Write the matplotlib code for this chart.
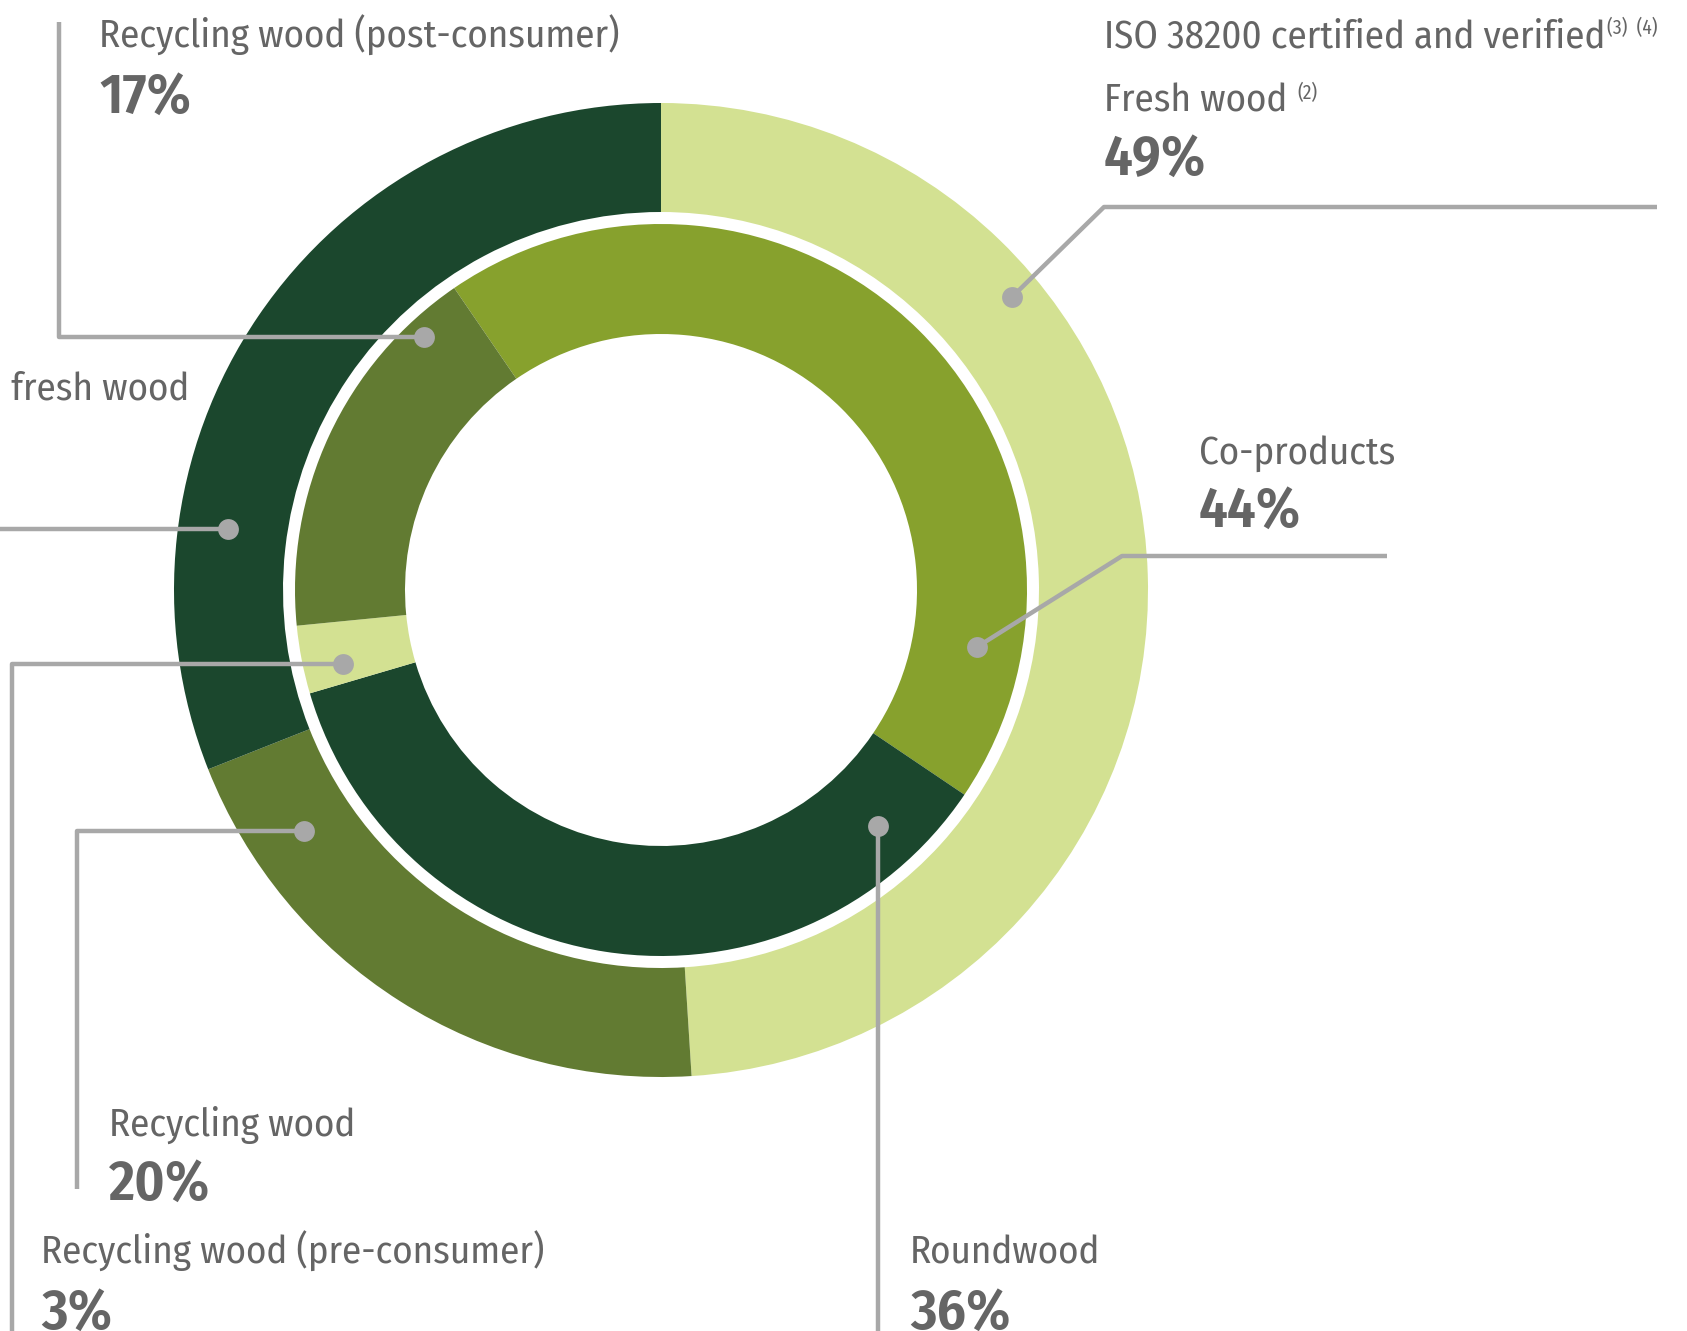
import matplotlib.pyplot as plt

W, H = 1687, 1331

# outer ring: certification split
outer_labels = ['Fresh wood', 'Recycling wood', 'fresh wood']
outer_values = [49, 20, 31]
outer_colors = ['#D3E192', '#627B32', '#1B472D']

# inner ring: wood categories
inner_labels = ['Co-products', 'Roundwood', 'Recycling wood (pre-consumer)',
                'Recycling wood (post-consumer)']
inner_values = [44, 36, 3, 17]
inner_colors = ['#87A12D', '#1B472D', '#D3E192', '#627B32']

plt.rcParams['font.family'] = ['Fira Sans Condensed', 'Roboto', 'DejaVu Sans']
TXT = '#656565'
LINE = '#A8A8A8'

fig = plt.figure(figsize=(W / 100, H / 100), dpi=100)
ax = fig.add_axes([0, 0, 1, 1])

cx, cy = 661, 590
ax.pie(outer_values, colors=outer_colors, radius=487, center=(cx, cy),
       startangle=-90, counterclock=True,
       wedgeprops=dict(width=109, linewidth=0))
ax.pie(inner_values, colors=inner_colors, radius=366, center=(cx, cy),
       startangle=235.6, counterclock=True,
       wedgeprops=dict(width=110, linewidth=0))

ax.set_xlim(0, W)
ax.set_ylim(H, 0)
ax.axis('off')

# leader lines (start at the dot)
leaders = [
    [(424, 337), (59, 337), (59, 22)],
    [(1012, 297), (1104, 207), (1657, 207)],
    [(977, 647), (1122, 556), (1387, 556)],
    [(878, 826), (878, 1331)],
    [(343, 664), (12, 664), (12, 1331)],
    [(304, 831), (77, 831), (77, 1189)],
    [(228, 529), (0, 529)],
]
for pts in leaders:
    xs = [p[0] for p in pts]
    ys = [p[1] for p in pts]
    ax.plot(xs, ys, color=LINE, lw=3.2, solid_capstyle='butt', zorder=3)
    ax.plot(xs[0], ys[0], 'o', color=LINE, ms=15, mec='none', zorder=4)

LBL = 28
PCT = 41


def label(x, y, name, pct=None, dy=64):
    t = ax.text(x, y, name, fontsize=LBL, color=TXT, va='baseline', ha='left')
    if pct is not None:
        ax.text(x, y + dy, pct, fontsize=PCT, color=TXT, va='baseline',
                ha='left', fontweight='semibold')
    return t


label(99, 48, 'Recycling wood (post-consumer)', f'{inner_values[3]}%', 65)
t_iso = label(1104, 48, 'ISO 38200 certified and verified')
t_fresh = label(1104, 112, 'Fresh wood', f'{outer_values[0]}%', 63)
label(1199, 464, 'Co-products', f'{inner_values[0]}%', 63)
label(910, 1264, 'Roundwood', f'{inner_values[1]}%', 65)
label(41, 1264, 'Recycling wood (pre-consumer)', f'{inner_values[2]}%', 65)
label(109, 1136, 'Recycling wood', f'{outer_values[1]}%', 64)
label(11, 399, 'fresh wood')

# footnote marks
fig.canvas.draw()
r = fig.canvas.get_renderer()
inv = ax.transData.inverted()


def right_edge(t):
    bb = t.get_window_extent(r)
    return inv.transform((bb.x1, 0))[0]


ax.text(right_edge(t_iso) + 2, 18, '(3)  (4)', fontsize=14, color=TXT,
        va='top', ha='left')
ax.text(right_edge(t_fresh) + 10, 83, '(2)', fontsize=14, color=TXT,
        va='top', ha='left')

fig.savefig('out.png', dpi=100)
